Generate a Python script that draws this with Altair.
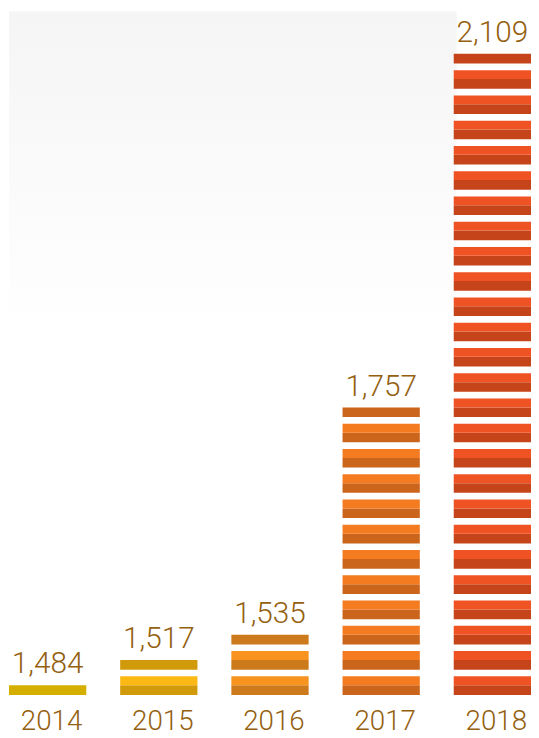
import altair as alt
import pandas as pd

# ---- data ----
years = ["2014", "2015", "2016", "2017", "2018"]
values = [1484, 1517, 1535, 1757, 2109]
light_colors = ["#E2BC00", "#FDB913", "#F7931E", "#F47B20", "#F05323"]
dark_colors = ["#D4AF00", "#D19A0A", "#CC7A1B", "#CC651C", "#C5441A"]

# pictogram parameters (value units)
BASE = 1473      # axis baseline of the pictogram
PERIOD = 25      # one stripe + gap
DARK = 9.6       # dark part of a stripe
LIGHT = 8.8      # light part of a stripe

TEXT_COLOR = "#94600f"
FONT = "Roboto"

rows = []
tops = []
for yr, v, lc, dc in zip(years, values, light_colors, dark_colors):
    n = int(round((v - BASE - DARK) / PERIOD)) + 1
    for i in range(n):
        b0 = BASE + i * PERIOD
        rows.append({"year": yr, "y0": b0, "y1": b0 + DARK, "color": dc})
        if i < n - 1:
            rows.append({"year": yr, "y0": b0 + DARK, "y1": b0 + DARK + LIGHT, "color": lc})
    tops.append(BASE + (n - 1) * PERIOD + DARK)

stripes = pd.DataFrame(rows)
labels = pd.DataFrame({"year": years, "value": values, "top": tops, "base": [BASE] * len(years)})

PX = 1.02          # pixels per value unit
H = 722            # plot height incl. room for year labels
ABOVE = 690        # pixels above the baseline
y_scale = alt.Scale(
    domain=[BASE - (H - ABOVE) / PX, BASE + ABOVE / PX], nice=False, zero=False
)
x_scale = alt.Scale(domain=years, paddingInner=0.305, paddingOuter=0)

background = alt.Chart(pd.DataFrame({"a": [0]})).mark_rect(
    color=alt.Gradient(
        gradient="linear",
        stops=[
            alt.GradientStop(color="#f5f5f5", offset=0),
            alt.GradientStop(color="#ffffff", offset=1),
        ],
        x1=0, x2=0, y1=0, y2=1,
    )
).encode(
    x=alt.value(0), x2=alt.value(452), y=alt.value(0), y2=alt.value(330)
)

bars = alt.Chart(stripes).mark_bar(cornerRadius=0, strokeWidth=0).encode(
    x=alt.X("year:N", scale=x_scale, sort=years, axis=None),
    y=alt.Y("y0:Q", scale=y_scale, axis=None),
    y2="y1:Q",
    color=alt.Color("color:N", scale=None),
)

value_text = alt.Chart(labels).mark_text(
    baseline="alphabetic",
    align="center",
    dy=-12,
    fontSize=30,
    font=FONT,
    fontWeight=300,
    color=TEXT_COLOR,
).encode(
    x=alt.X("year:N", scale=x_scale, sort=years, axis=None),
    y=alt.Y("top:Q", scale=y_scale, axis=None),
    text=alt.Text("value:Q", format=","),
)

year_text = alt.Chart(labels).mark_text(
    baseline="alphabetic",
    align="center",
    dy=35,
    dx=4,
    fontSize=28,
    font=FONT,
    fontWeight=300,
    color=TEXT_COLOR,
).encode(
    x=alt.X("year:N", scale=x_scale, sort=years, axis=None),
    y=alt.Y("base:Q", scale=y_scale, axis=None),
    text="year:N",
)

chart = (
    alt.layer(background, bars, value_text, year_text)
    .properties(
        width=527,
        height=H,
        padding={"left": 1, "top": 0, "right": 0, "bottom": 0},
        background="#ffffff",
    )
    .configure_view(strokeWidth=0, stroke="transparent")
)

chart.save("out.html", embed_options={"renderer": "svg", "actions": False})
